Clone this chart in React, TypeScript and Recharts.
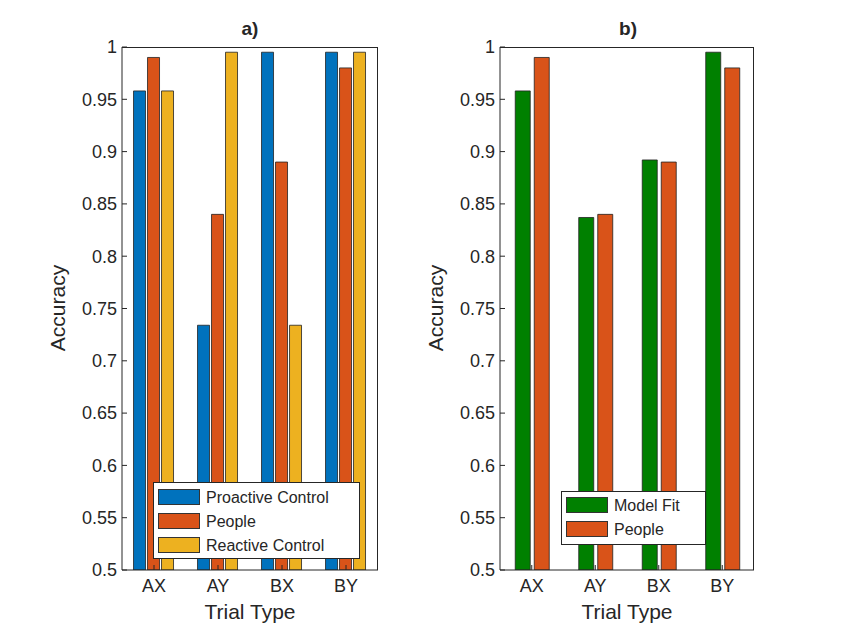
import { BarChart, Bar, XAxis, YAxis } from "recharts";

const trials = ["AX", "AY", "BX", "BY"];
const proactive = [0.958, 0.734, 0.995, 0.995];
const people = [0.99, 0.84, 0.89, 0.98];
const reactive = [0.958, 0.995, 0.734, 0.995];
const modelFit = [0.958, 0.837, 0.892, 0.995];
const yTicks = [0.5, 0.55, 0.6, 0.65, 0.7, 0.75, 0.8, 0.85, 0.9, 0.95, 1];

const dataA = trials.map((t, i) => ({ t, proactive: proactive[i], people: people[i], reactive: reactive[i] }));
const dataB = trials.map((t, i) => ({ t, model: modelFit[i], people: people[i] }));

const FONT = "'Liberation Sans', Arial, sans-serif";
const tickStyle = { fill: "#262626", fontSize: 18, fontFamily: FONT };

function Axes() {
  return [
    <XAxis key="x" dataKey="t" tick={tickStyle} tickSize={-5} tickMargin={14} stroke="#262626" interval={0} height={30} />,
    <YAxis key="y" domain={[0.5, 1]} ticks={yTicks} allowDataOverflow tick={tickStyle} tickSize={-5} tickMargin={10} stroke="#262626" width={60} tickFormatter={(v: number) => String(v)} />,
  ];
}

function Swatch({ color }: { color: string }) {
  return <span style={{ display: "inline-block", width: 40, height: 14, background: color, border: "1px solid #333", marginRight: 6, verticalAlign: "-2px" }} />;
}

const txt = (s: any) => ({ position: "absolute" as const, fontFamily: FONT, color: "#262626", ...s });

export default function App() {
  return (
    <div style={{ position: "fixed", left: 0, top: 0, width: 850, height: 638, background: "#fff" }}>
      <div style={{ position: "absolute", left: 0, top: 0 }}>
        <BarChart width={850} height={638} data={dataA} margin={{ left: 62, right: 472, top: 47, bottom: 38 }} barCategoryGap="18%" barGap={2}>
          {Axes()}
          <Bar dataKey="proactive" fill="#0072BD" stroke="#222" strokeWidth={0.8} isAnimationActive={false} />
          <Bar dataKey="people" fill="#D95319" stroke="#222" strokeWidth={0.8} isAnimationActive={false} />
          <Bar dataKey="reactive" fill="#EDB120" stroke="#222" strokeWidth={0.8} isAnimationActive={false} />
        </BarChart>
      </div>
      <div style={{ position: "absolute", left: 0, top: 0 }}>
        <BarChart width={850} height={638} data={dataB} margin={{ left: 440, right: 96, top: 47, bottom: 38 }} barCategoryGap="24%" barGap={4}>
          {Axes()}
          <Bar dataKey="model" fill="#008000" stroke="#222" strokeWidth={0.8} isAnimationActive={false} />
          <Bar dataKey="people" fill="#D95319" stroke="#222" strokeWidth={0.8} isAnimationActive={false} />
        </BarChart>
      </div>
      <div style={{ position: "absolute", left: 122, top: 47, width: 256, height: 523, borderTop: "1px solid #262626", borderRight: "1px solid #262626", boxSizing: "border-box", pointerEvents: "none" }} />
      <div style={{ position: "absolute", left: 500, top: 47, width: 254, height: 523, borderTop: "1px solid #262626", borderRight: "1px solid #262626", boxSizing: "border-box", pointerEvents: "none" }} />
      <div style={txt({ left: 230, top: 18, width: 40, textAlign: "center", fontWeight: "bold", fontSize: 19 })}>a)</div>
      <div style={txt({ left: 608, top: 18, width: 40, textAlign: "center", fontWeight: "bold", fontSize: 19 })}>b)</div>
      <div style={txt({ left: 150, top: 600, width: 200, textAlign: "center", fontSize: 21 })}>Trial Type</div>
      <div style={txt({ left: 527, top: 600, width: 200, textAlign: "center", fontSize: 21 })}>Trial Type</div>
      <div style={txt({ left: -42, top: 296, width: 200, textAlign: "center", fontSize: 21, transform: "rotate(-90deg)" })}>Accuracy</div>
      <div style={txt({ left: 336, top: 296, width: 200, textAlign: "center", fontSize: 21, transform: "rotate(-90deg)" })}>Accuracy</div>
      <div style={txt({ left: 153, top: 482, width: 207, height: 77, background: "#fff", border: "1px solid #262626", fontSize: 16, padding: "3px 0 0 4px", boxSizing: "border-box", lineHeight: "24px" })}>
        <div><Swatch color="#0072BD" />Proactive Control</div>
        <div><Swatch color="#D95319" />People</div>
        <div><Swatch color="#EDB120" />Reactive Control</div>
      </div>
      <div style={txt({ left: 561, top: 491, width: 145, height: 54, background: "#fff", border: "1px solid #262626", fontSize: 16, padding: "2px 0 0 4px", boxSizing: "border-box", lineHeight: "24px" })}>
        <div><Swatch color="#008000" />Model Fit</div>
        <div><Swatch color="#D95319" />People</div>
      </div>
    </div>
  );
}
